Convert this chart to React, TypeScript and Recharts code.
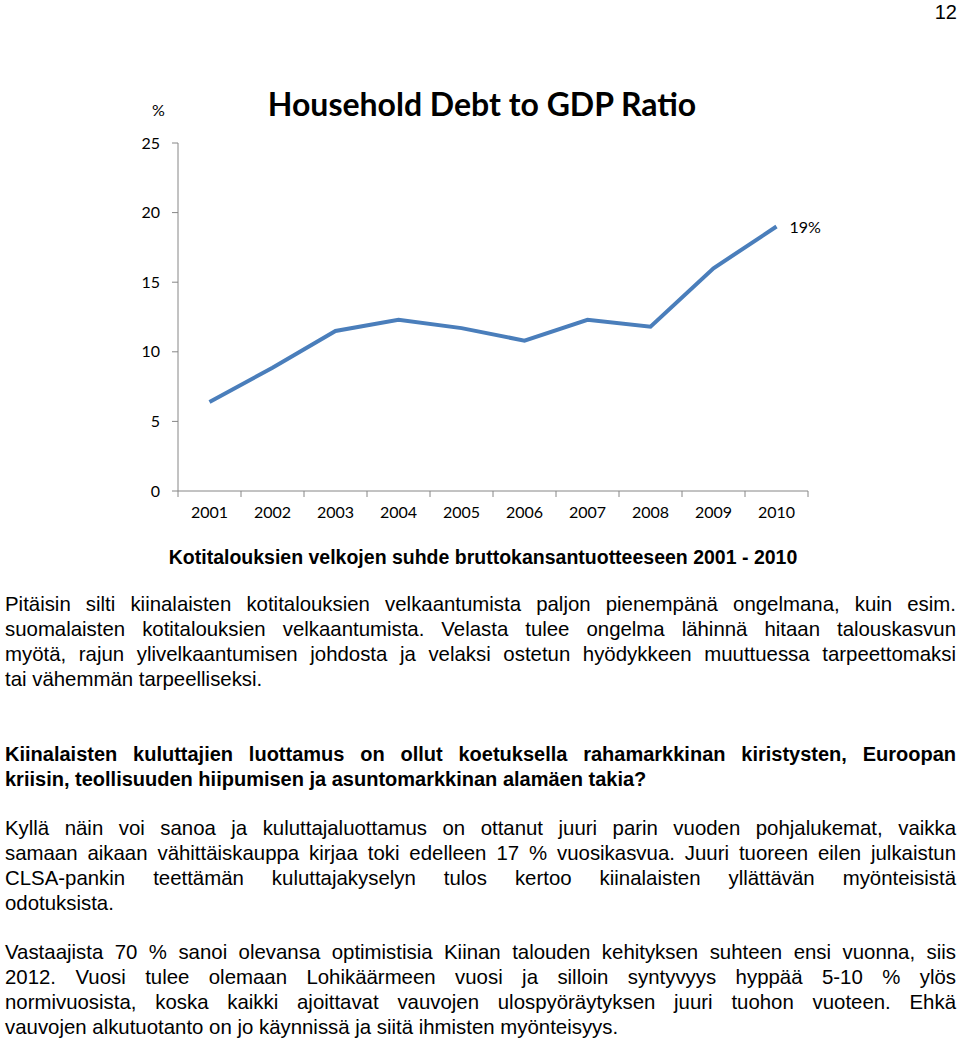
import React from 'react';
import { LineChart, Line, XAxis, YAxis, LabelList } from 'recharts';

const years = ['2001', '2002', '2003', '2004', '2005', '2006', '2007', '2008', '2009', '2010'];
const debtRatio = [6.4, 8.85, 11.5, 12.3, 11.7, 10.8, 12.3, 11.8, 16.0, 19.0];
const yTicks = [0, 5, 10, 15, 20, 25];
const endLabel = '19%';

const data = years.map((year, i) => ({ year, value: debtRatio[i] }));

const paragraph1 = [
  'Pitäisin silti kiinalaisten kotitalouksien velkaantumista paljon pienempänä ongelmana, kuin esim.',
  'suomalaisten kotitalouksien velkaantumista. Velasta tulee ongelma lähinnä hitaan talouskasvun',
  'myötä, rajun ylivelkaantumisen johdosta ja velaksi ostetun hyödykkeen muuttuessa tarpeettomaksi',
  'tai vähemmän tarpeelliseksi.',
];
const question = [
  'Kiinalaisten kuluttajien luottamus on ollut koetuksella rahamarkkinan kiristysten, Euroopan',
  'kriisin, teollisuuden hiipumisen ja asuntomarkkinan alamäen takia?',
];
const paragraph3 = [
  'Kyllä näin voi sanoa ja kuluttajaluottamus on ottanut juuri parin vuoden pohjalukemat, vaikka',
  'samaan aikaan vähittäiskauppa kirjaa toki edelleen 17 % vuosikasvua. Juuri tuoreen eilen julkaistun',
  'CLSA-pankin teettämän kuluttajakyselyn tulos kertoo kiinalaisten yllättävän myönteisistä',
  'odotuksista.',
];
const paragraph4 = [
  'Vastaajista 70 % sanoi olevansa optimistisia Kiinan talouden kehityksen suhteen ensi vuonna, siis',
  '2012. Vuosi tulee olemaan Lohikäärmeen vuosi ja silloin syntyvyys hyppää 5-10 % ylös',
  'normivuosista, koska kaikki ajoittavat vauvojen ulospyöräytyksen juuri tuohon vuoteen. Ehkä',
  'vauvojen alkutuotanto on jo käynnissä ja siitä ihmisten myönteisyys.',
];

const AXIS = '#868686';
const LINE = '#4a7ebb';
const chartFont = 'Lato, "Open Sans", sans-serif';
const bodyFont = '"Liberation Sans", Arial, Helvetica, sans-serif';

const CHART_W = 760;
const CHART_H = 430;
const margin = { top: 23, right: 52, bottom: 29, left: 38 };
const Y_W = 40;
const X_H = 30;
const plotW = CHART_W - margin.left - margin.right - Y_W;
const band = plotW / years.length;

function YearTick(props: any) {
  const { x, y, payload, index } = props;
  const left = x - band / 2;
  return (
    <g>
      <line x1={left} y1={y - 8} x2={left} y2={y - 2} stroke={AXIS} />
      {index === years.length - 1 && (
        <line x1={left + band} y1={y - 8} x2={left + band} y2={y - 2} stroke={AXIS} />
      )}
      <text x={x} y={y + 19} textAnchor="middle" fill="#000" fontSize={16} fontFamily={chartFont}>
        {payload.value}
      </text>
    </g>
  );
}

function EndLabel(props: any) {
  const { x, y, index } = props;
  if (index !== years.length - 1) return null;
  return (
    <text x={x + 13} y={y + 6} fill="#000" fontSize={16} fontFamily={chartFont}>
      {endLabel}
    </text>
  );
}

function Block({ lines, top, bold }: { lines: string[]; top: number; bold?: boolean }) {
  return (
    <div
      style={{
        position: 'absolute',
        left: 5,
        width: 951,
        top,
        fontFamily: bodyFont,
        fontSize: bold ? 20 : 20.4,
        lineHeight: '25px',
        fontWeight: bold ? 'bold' : 'normal',
        color: '#000',
      }}
    >
      {lines.map((l, i) => (
        <div
          key={i}
          style={{
            textAlign: i === lines.length - 1 ? 'left' : 'justify',
            textAlignLast: i === lines.length - 1 ? 'left' : 'justify',
            whiteSpace: 'nowrap',
          }}
        >
          {l}
        </div>
      ))}
    </div>
  );
}

export default function App() {
  return (
    <div style={{ position: 'absolute', left: 0, top: 0, width: 960, height: 1039, background: '#fff', overflow: 'hidden' }}>
      <div style={{ position: 'absolute', right: 3, top: 0, fontFamily: bodyFont, fontSize: 20, lineHeight: '24px' }}>12</div>
      <div style={{ position: 'absolute', left: 152, top: 100, fontFamily: chartFont, fontSize: 16 }}>%</div>
      <div
        style={{
          position: 'absolute',
          left: 0,
          width: 964,
          top: 84,
          textAlign: 'center',
          fontFamily: chartFont,
          fontWeight: 'bold',
          fontSize: 32,
          lineHeight: '40px',
        }}
      >
        Household Debt to GDP Ratio
      </div>
      <div style={{ position: 'absolute', left: 100, top: 120 }}>
        <LineChart width={CHART_W} height={CHART_H} data={data} margin={margin}>
          <XAxis
            dataKey="year"
            height={X_H}
            stroke={AXIS}
            tickLine={false}
            tick={<YearTick />}
            interval={0}
            padding={{ left: band / 2, right: band / 2 }}
          />
          <YAxis
            domain={[0, 25]}
            ticks={yTicks}
            width={Y_W}
            stroke={AXIS}
            tickSize={6}
            tickMargin={12}
            tick={{ fill: '#000', fontSize: 16, fontFamily: chartFont }}
          />
          <Line
            type="linear"
            dataKey="value"
            stroke={LINE}
            strokeWidth={4}
            dot={false}
            isAnimationActive={false}
          >
            <LabelList dataKey="value" content={<EndLabel />} />
          </Line>
        </LineChart>
      </div>
      <div
        style={{
          position: 'absolute',
          left: 0,
          width: 966,
          top: 545,
          textAlign: 'center',
          fontFamily: bodyFont,
          fontWeight: 'bold',
          fontSize: 19.5,
          lineHeight: '24px',
        }}
      >
        Kotitalouksien velkojen suhde bruttokansantuotteeseen 2001 - 2010
      </div>
      <Block lines={paragraph1} top={592} />
      <Block lines={question} top={742} bold />
      <Block lines={paragraph3} top={816} />
      <Block lines={paragraph4} top={940} />
    </div>
  );
}
